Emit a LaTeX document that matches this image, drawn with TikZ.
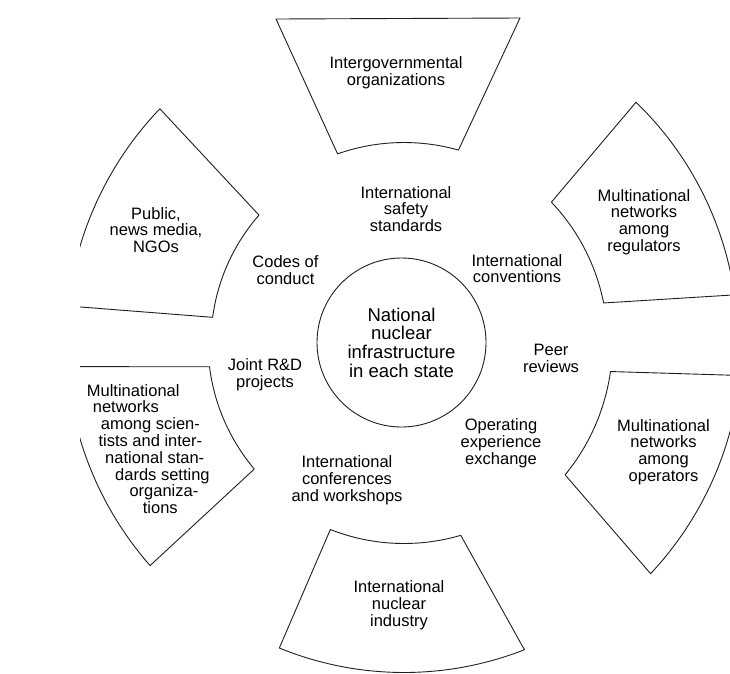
\documentclass[tikz,border=0pt]{standalone}
\usepackage{fontspec}
\setmainfont{Liberation Sans}
\begin{document}
\begin{tikzpicture}[x=1pt,y=1pt,
  ring/.style={draw=black!88, line width=0.9pt, line join=round},
  lbl/.style={align=center, inner sep=0pt, font=\fontsize{16.5}{16.8}\selectfont},
  lblleft/.style={align=left, inner sep=0pt, font=\fontsize{16.5}{16.8}\selectfont},
  core/.style={draw=black!88, line width=0.9pt, circle, minimum size=169pt,
    align=center, inner sep=0pt, font=\fontsize{18.5}{18.7}\selectfont}]
\useasboundingbox (0,0) rectangle (730,-673);
\coordinate (C) at (404,-342.5);

% outer ring of partner groups, cut by the frame edges
\begin{scope}
  \clip (80,0) rectangle (730,-673);
  % top: intergovernmental organizations (flat upper edge)
  \draw[ring, shift={(C)}] (-128,323.5) -- (109.4:200)
    arc[start angle=109.4, end angle=74.2, radius=200] -- (116,324.5)
    -- cycle;
  % upper right: regulators
  \draw[ring, shift={(C)}] (46.0:334) -- (43.6:203.5)
    arc[start angle=43.6, end angle=11.2, radius=203.5] -- (8.2:334)
    arc[start angle=8.2, end angle=46.0, radius=334] -- cycle;
  % lower right: operators
  \draw[ring, shift={(C)}] (-5.6:338) -- (-8.0:208.5)
    arc[start angle=-8.0, end angle=-39.4, radius=208.5] -- (-43.15:338)
    arc[start angle=-43.15, end angle=-5.6, radius=338] -- cycle;
  % bottom: nuclear industry
  \draw[ring, shift={(C)}] (-112.2:330) -- (-111.5:201)
    arc[start angle=-111.5, end angle=-73.6, radius=201] -- (-68.6:330)
    arc[start angle=-68.6, end angle=-112.2, radius=330] -- cycle;
  % lower left: scientists and standards organizations
  \draw[ring, shift={(C)}] (184.1:338) -- (187.1:196)
    arc[start angle=187.1, end angle=220.2, radius=196] -- (221.3:338)
    arc[start angle=221.3, end angle=184.1, radius=338] -- cycle;
  % upper left: public, media, NGOs
  \draw[ring, shift={(C)}] (136.25:338) -- (138.7:193)
    arc[start angle=138.7, end angle=172.5, radius=193] -- (173.8:338)
    arc[start angle=173.8, end angle=136.25, radius=338] -- cycle;
\end{scope}

% central circle
\node[core] (nat) at (401.5,-342.5)
  {National\\nuclear\\infrastructure\\in each state};

% group names
\node[lbl] (igo) at (396,-73) {Intergovernmental\\organizations};
\node[lbl] (reg) at (644,-222) {Multinational\\networks\\among\\regulators};
\node[lbl] (ops) at (663.5,-452) {Multinational\\networks\\among\\operators};
\node[lbl] (ind) at (399,-605) {International\\nuclear\\industry};
\node[lblleft, anchor=west] (sci) at (86.7,-449)
  {Multinational\\
   \hspace*{6pt}networks\\
   \hspace*{14pt}among scien-\\
   \hspace*{11.6pt}tists and inter-\\
   \hspace*{18.3pt}national stan-\\
   \hspace*{28.3pt}dards setting\\
   \hspace*{42.6pt}organiza-\\
   \hspace*{56pt}tions};
\node[lbl] (pub) at (156,-230) {Public,\\news media,\\NGOs};

% mechanisms between the groups
\node[lbl] (iss) at (406,-209) {International\\safety\\standards};
\node[lbl] (conv) at (517,-268.5) {International\\conventions};
\node[lbl] (peer) at (551,-358.5) {Peer\\reviews};
\node[lbl] (oee) at (501,-443.5) {Operating\\experience\\exchange};
\node[lbl] (conf) at (347,-480) {International\\conferences\\and workshops};
\node[lbl] (rnd) at (265,-375) {Joint R\&D\\projects};
\node[lbl] (coc) at (285.5,-270) {Codes of\\conduct};
\end{tikzpicture}
\end{document}
